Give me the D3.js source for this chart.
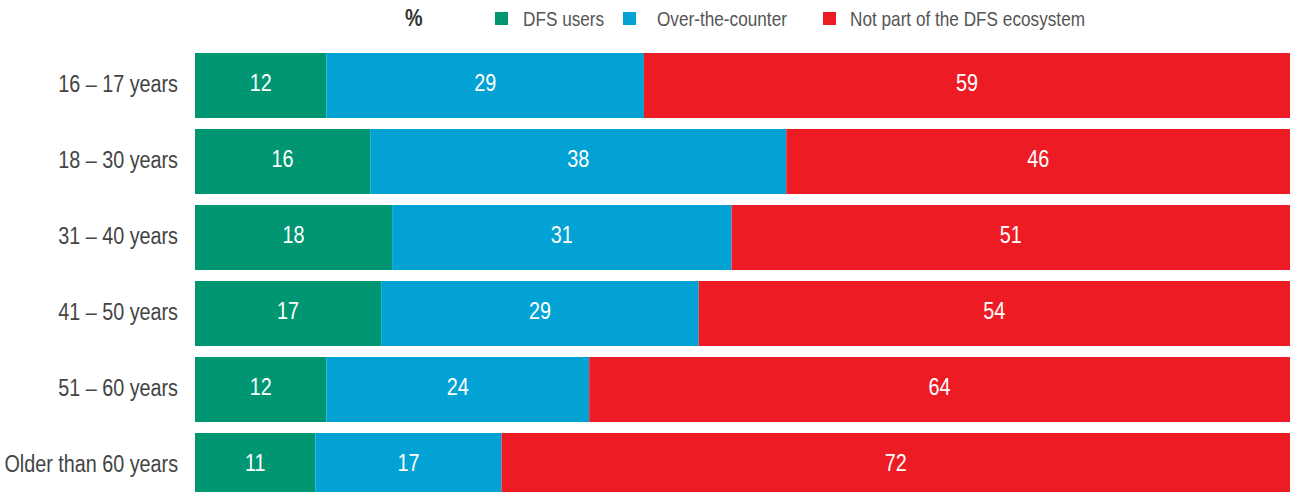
<!DOCTYPE html>
<html>
<head>
<meta charset="utf-8">
<script src="https://cdn.jsdelivr.net/npm/d3@7"></script>
<style>
  html, body { margin: 0; padding: 0; background: #fff; }
  svg { display: block; }
  text { font-family: "Liberation Sans", Arial, sans-serif; }
</style>
</head>
<body>
<svg id="chart" width="1290" height="492"></svg>
<script>
// Age groups
const categories = ["16 – 17 years", "18 – 30 years", "31 – 40 years", "41 – 50 years", "51 – 60 years", "Older than 60 years"];
// Share of each age group (%)
const dfsUsers = [12, 16, 18, 17, 12, 11];
const overTheCounter = [29, 38, 31, 29, 24, 17];
const notPart = [59, 46, 51, 54, 64, 72];
const seriesNames = ["DFS users", "Over-the-counter", "Not part of the DFS ecosystem"];
const seriesColors = ["#009672", "#02A3D4", "#ED1C24"];

// Horizontal squeeze that gives the regular sans a condensed look
const narrow = 0.86;

const rows = categories.map((c, i) => ({
  cat: c,
  "DFS users": dfsUsers[i],
  "Over-the-counter": overTheCounter[i],
  "Not part of the DFS ecosystem": notPart[i]
}));

const svg = d3.select("#chart");
const plotLeft = 195, plotRight = 1290, plotTop = 53;

const x = d3.scaleLinear().domain([0, 100]).range([plotLeft, plotRight]);
const y = d3.scaleBand().domain(categories)
  .range([plotTop, plotTop + 76 * 6 - 11])
  .paddingInner(11 / 76).paddingOuter(0);
const color = d3.scaleOrdinal().domain(seriesNames).range(seriesColors);

const stacked = d3.stack().keys(seriesNames)(rows);

const layers = svg.append("g").selectAll("g")
  .data(stacked).join("g")
  .attr("fill", d => color(d.key));

layers.selectAll("rect")
  .data(d => d).join("rect")
  .attr("x", d => x(d[0]))
  .attr("y", d => y(d.data.cat))
  .attr("width", d => x(d[1]) - x(d[0]))
  .attr("height", y.bandwidth());

// Segment values, set slightly above the bar's middle
layers.selectAll("text")
  .data(d => d).join("text")
  .attr("transform", d => `translate(${(x(d[0]) + x(d[1])) / 2},${y(d.data.cat) + y.bandwidth() / 2 - 3}) scale(${narrow},1)`)
  .attr("dy", "0.36em")
  .attr("text-anchor", "middle")
  .attr("fill", "#fff")
  .style("font-size", "23px")
  .text(d => d[1] - d[0]);

// Category axis
const pad = 17;
const yAxis = svg.append("g")
  .attr("transform", `translate(${plotLeft},-2)`)
  .call(d3.axisLeft(y).tickSize(0).tickPadding(pad));
yAxis.select(".domain").remove();
yAxis.selectAll("text")
  .attr("x", -pad / narrow)
  .attr("transform", `scale(${narrow},1)`)
  .attr("fill", "#444")
  .style("font-size", "23px")
  .attr("dy", "0.36em");

// Legend
svg.append("text")
  .attr("transform", `translate(405,26) scale(${narrow},1)`)
  .attr("fill", "#333")
  .style("font-size", "23px")
  .style("font-weight", "bold")
  .text("%");

const swatchX = [495, 623, 823];
const labelX = [523, 657, 850];
const legend = svg.append("g").selectAll("g")
  .data(seriesNames).join("g");
legend.append("rect")
  .attr("x", (d, i) => swatchX[i]).attr("y", 12)
  .attr("width", 13).attr("height", 13)
  .attr("fill", d => color(d));
legend.append("text")
  .attr("transform", (d, i) => `translate(${labelX[i]},26) scale(${narrow},1)`)
  .attr("fill", "#555")
  .style("font-size", "20px")
  .text(d => d);
</script>
</body>
</html>
